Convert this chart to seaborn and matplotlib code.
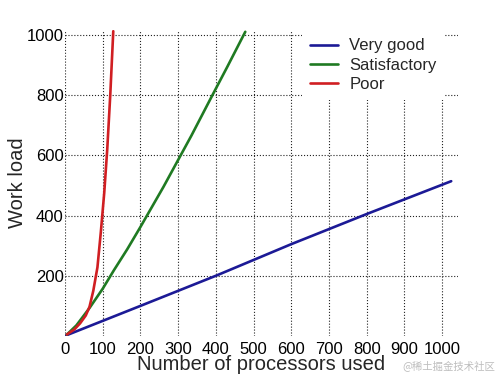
import numpy as np
import pandas as pd
import matplotlib
matplotlib.use("Agg")
import matplotlib.pyplot as plt
import seaborn as sns

# values
very_good_p = [1, 200, 400, 600, 800, 1024]
very_good_w = [1, 100, 200, 305, 405, 514]

satisfactory_p = [5, 30, 65, 100, 130, 165, 200, 261, 335, 386, 430, 478]
satisfactory_w = [5, 35, 93, 157, 219, 288, 362, 495, 665, 788, 893, 1010]

poor_p = [5, 25, 40, 55, 65, 75, 86, 95, 104, 112, 120, 128]
poor_w = [5, 22, 42, 68, 97, 150, 228, 345, 475, 620, 800, 1012]

series_names = ["Very good", "Satisfactory", "Poor"]
series_colors = ["#1c1a96", "#1f7a22", "#d01e22"]

x_ticks = list(range(0, 1001, 100))
y_ticks = [200, 400, 600, 800, 1000]


def build_frame():
    parts = []
    for name, p, w in zip(series_names,
                          [very_good_p, satisfactory_p, poor_p],
                          [very_good_w, satisfactory_w, poor_w]):
        parts.append(pd.DataFrame({"p": p, "w": w, "quality": name}))
    return pd.concat(parts, ignore_index=True)


df = build_frame()

sns.set_theme(style="white")
plt.rcParams["font.family"] = ["Liberation Sans", "DejaVu Sans"]

fig = plt.figure(figsize=(5, 3.75), dpi=100)
ax = fig.add_axes([0.13, 0.104, 0.786, 0.816])

sns.lineplot(data=df, x="p", y="w", hue="quality", hue_order=series_names,
             palette=dict(zip(series_names, series_colors)),
             estimator=None, sort=False, linewidth=1.9, ax=ax)

ax.set_xlim(0, 1042)
ax.set_ylim(0, 1016)
ax.set_xticks(x_ticks)
ax.set_yticks(y_ticks)
ax.tick_params(axis="both", length=0, labelsize=12, colors="black")
ax.tick_params(axis="y", pad=1)
ax.tick_params(axis="x", pad=4)
ax.grid(True, color="#222222", linestyle=":", linewidth=0.8)
for s in ax.spines.values():
    s.set_visible(False)

ax.set_xlabel("Number of processors used", fontsize=14.5, labelpad=-1)
ax.set_ylabel("Work load", fontsize=14.5, labelpad=0)

handles, labels = ax.get_legend_handles_labels()
leg = ax.legend(handles, labels, loc="upper left", bbox_to_anchor=(0.603, 1.0),
                frameon=True, facecolor="white", edgecolor="none", framealpha=1,
                fancybox=False, fontsize=12, handlelength=1.65, handletextpad=0.7,
                labelspacing=0.25, borderpad=0.5, borderaxespad=0)

fig.text(0.99, 0.025, "@稀土掘金技术社区", ha="right", va="center",
         fontsize=7.5, color="#bdbdbd",
         family=["Noto Sans CJK SC", "DejaVu Sans"])

fig.savefig("out.png", dpi=100)
